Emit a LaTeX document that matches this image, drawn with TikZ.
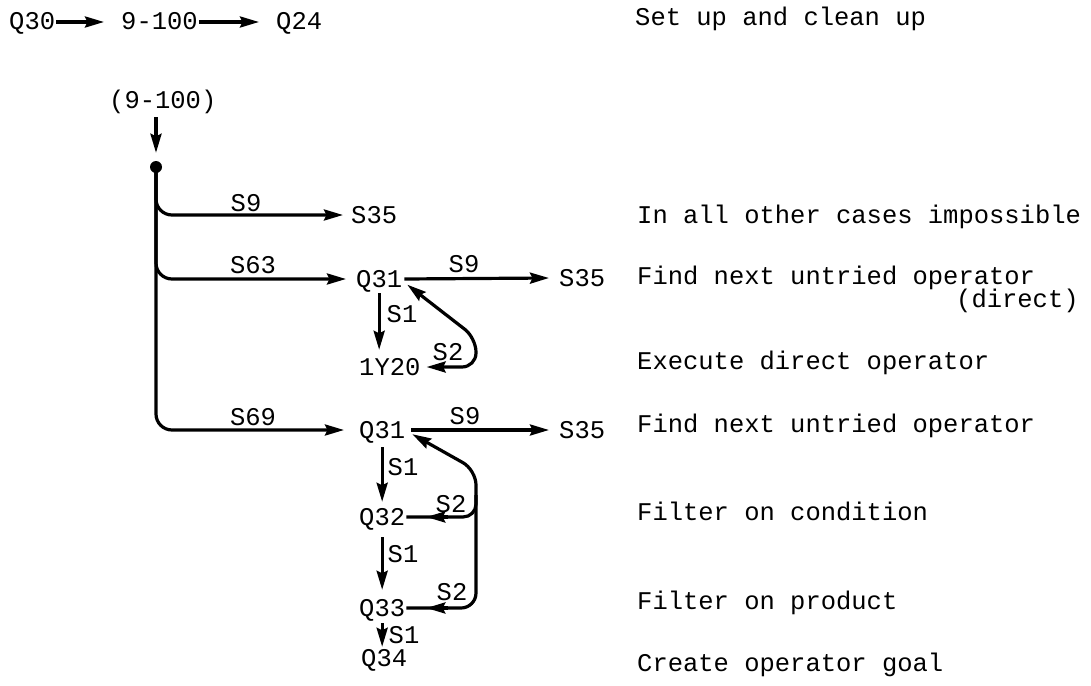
\documentclass[tikz,border=0pt]{standalone}
\usepackage{fontspec}
\setmonofont{Liberation Mono}
\usetikzlibrary{arrows.meta}
\begin{document}
\begin{tikzpicture}[x=1pt,y=-1pt,
  txt/.style={font=\ttfamily\fontsize{25.5}{28}\selectfont, inner sep=1pt, anchor=west, text height=16pt, text depth=0pt},
  lbl/.style={txt, anchor=center},
  ln/.style={line width=3.2pt},
  arr/.style={ln, -{Stealth[length=19pt,width=11pt,inset=2.5pt]}},
  dblarr/.style={ln, {Stealth[length=19pt,width=11pt,inset=2.5pt]}-{Stealth[length=19pt,width=11pt,inset=2.5pt]}},
  dotst/.style={circle, fill, inner sep=0pt, minimum size=12pt},
]
\useasboundingbox (0,0) rectangle (1091,685);

% top row
\node[txt] (Q30) at (8,22) {Q30};
\node[txt] (n9100) at (120,22) {9-100};
\node[txt] (Q24) at (275,22) {Q24};
\node[txt] (tSet) at (634,18) {Set up and clean up};
\draw[arr] (Q30.east) -- ([xshift=-16pt]n9100.west);
\draw[arr] (n9100.east) -- ([xshift=-16pt]Q24.west);

% main tree
\node[txt] (p9100) at (108,100) {(9-100)};
\node[dotst] (dot) at (156,167) {};
\draw[arr, shorten <=8pt, shorten >=8pt] (p9100.south -| dot) -- (dot.north);

\node[txt] (S35a) at (350,215) {S35};
\node[txt] (Q31a) at (355,279) {Q31};
\node[txt] (S35b) at (558,278) {S35};
\node[txt] (Y20) at (358,367) {1Y20};
\node[txt] (Q31b) at (358,430) {Q31};
\node[txt] (S35c) at (558,430) {S35};
\node[txt] (Q32) at (358,517) {Q32};
\node[txt] (Q33) at (358,608) {Q33};
\node[txt] (Q34) at (360,658) {Q34};

\draw[arr, rounded corners=16pt] (dot.center) |- ([xshift=-7pt]S35a.west);
\draw[arr, rounded corners=16pt] (dot.center) |- ([xshift=-9pt]Q31a.west);
\draw[arr, rounded corners=16pt] (dot.center) |- ([xshift=-14pt]Q31b.west);

% first Q31 group
\draw[arr] ([xshift=1pt]Q31a.east) -- ([xshift=-9pt]S35b.west);
\draw[arr, shorten <=5pt, shorten >=8pt] (Q31a.south) -- (Q31a.south |- Y20.north);
\coordinate (c1) at (476,338);
\draw[dblarr, rounded corners=14pt]
  ([xshift=5pt]Y20.east) -| (c1) -- ([xshift=4pt,yshift=3.5pt]Q31a.south east);

% second Q31 group
\draw[arr] ([xshift=5pt]Q31b.east) -- ([xshift=-9pt]S35c.west);
\draw[arr, shorten <=8pt, shorten >=6pt] (Q31b.south) -- (Q31b.south |- Q32.north);
\draw[arr, shorten <=11pt, shorten >=9pt] (Q32.south) -- (Q32.south |- Q33.north);
\draw[arr, shorten <=6pt, shorten >=2pt] (Q33.south) -- (Q33.south |- Q34.north);
\coordinate (c2) at (476,470);
\coordinate (c3) at (476,495);
\draw[arr, rounded corners=15pt] (Q33.east) -| (c2) -- ([xshift=6pt,yshift=5pt]Q31b.south east);
\draw[ln, rounded corners=13pt] (c3) |- (Q32.east);
\draw[arr] ([xshift=42pt]Q32.east) -- ([xshift=20pt]Q32.east);
\draw[arr] ([xshift=42pt]Q33.east) -- ([xshift=20pt]Q33.east);

% edge labels
\node[lbl] at (246,203) {S9};
\node[lbl] at (253,265) {S63};
\node[lbl] at (464,264) {S9};
\node[lbl] at (402,314) {S1};
\node[lbl] at (448,352) {S2};
\node[lbl] at (253,417) {S69};
\node[lbl] at (465,416) {S9};
\node[lbl] at (403,467) {S1};
\node[lbl] at (451,504) {S2};
\node[lbl] at (403,554) {S1};
\node[lbl] at (452,592) {S2};
\node[lbl] at (404,635) {S1};

% right column
\node[txt] (tA) at (636,215) {In all other cases impossible};
\node[txt] (tB) at (636,276) {Find next untried operator};
\node[txt] (tBd) at (955,299) {(direct)};
\node[txt] (tC) at (636,361) {Execute direct operator};
\node[txt] (tD) at (636,424) {Find next untried operator};
\node[txt] (tE) at (636,512) {Filter on condition};
\node[txt] (tF) at (636,601) {Filter on product};
\node[txt] (tG) at (636,663) {Create operator goal};
\end{tikzpicture}
\end{document}
